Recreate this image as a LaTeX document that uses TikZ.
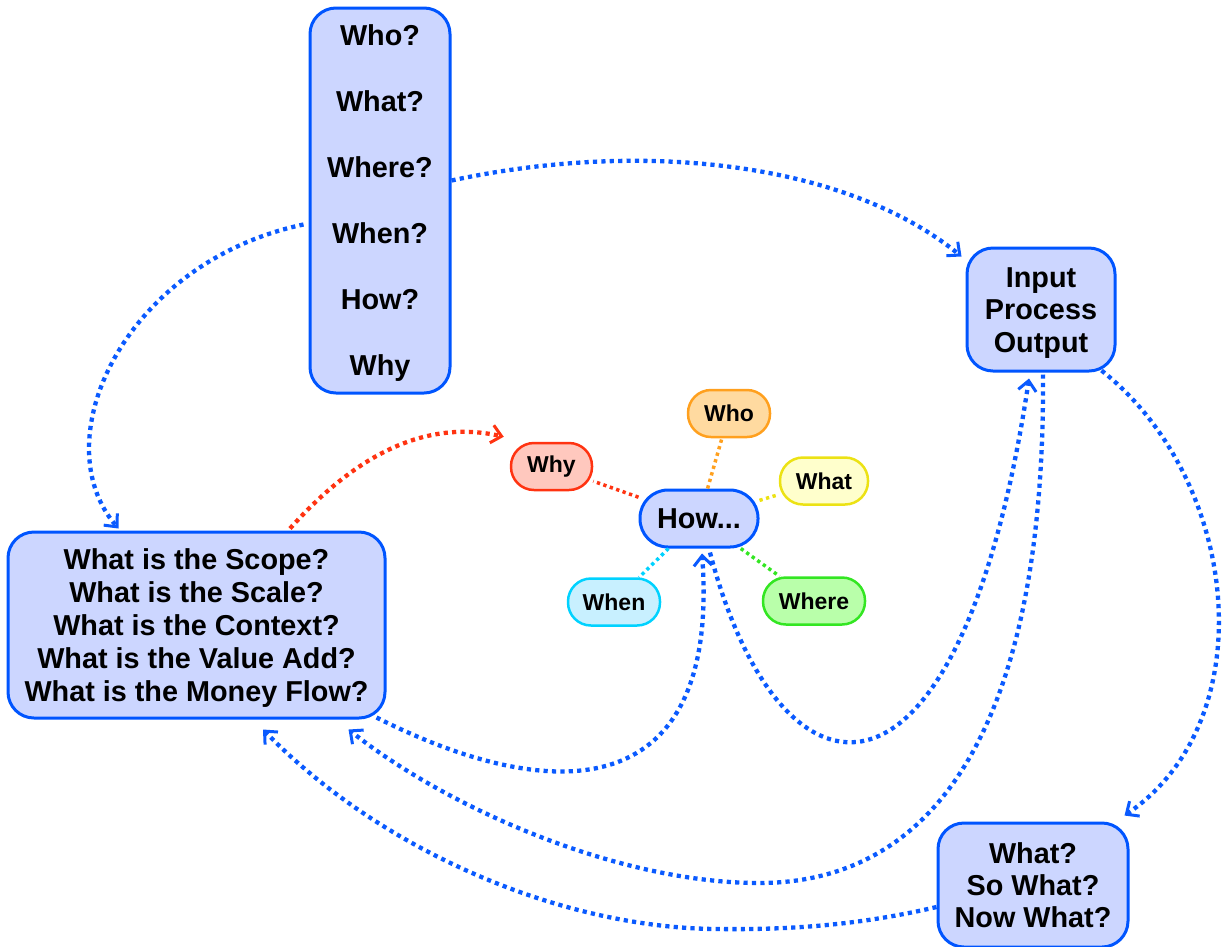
\documentclass[tikz,border=0pt]{standalone}
\usepackage{fontspec}
\setmainfont{Liberation Sans}
\usetikzlibrary{arrows.meta,calc}
\definecolor{bfill}{RGB}{204,214,255}
\definecolor{bline}{RGB}{0,85,255}
\definecolor{dotblue}{RGB}{10,90,255}
\definecolor{whyfill}{RGB}{255,200,190}
\definecolor{whyline}{RGB}{255,51,17}
\definecolor{whofill}{RGB}{255,218,160}
\definecolor{wholine}{RGB}{255,160,30}
\definecolor{whatfill}{RGB}{255,255,204}
\definecolor{whatline}{RGB}{236,226,20}
\definecolor{whenfill}{RGB}{200,240,255}
\definecolor{whenline}{RGB}{0,210,255}
\definecolor{wherefill}{RGB}{185,255,170}
\definecolor{whereline}{RGB}{51,230,34}
\newcommand{\topstrut}{\rule{0pt}{26pt}}
\begin{document}
\begin{tikzpicture}[x=1pt,y=-1pt,
  box/.style={draw=bline, fill=bfill, line width=3pt, rounded corners=26pt, align=center, inner sep=0pt,
    font=\fontsize{28.8}{33}\selectfont\bfseries},
  sat/.style n args={2}{draw=#1, fill=#2, line width=2.5pt, rounded corners=23pt, inner sep=0pt,
    minimum height=47pt, font=\fontsize{23}{26}\selectfont\bfseries},
  link/.style={draw=dotblue, line width=4.3pt, dash pattern=on 4.2pt off 4.2pt,
    -{Straight Barb[length=10pt,width=18pt,line width=3pt]}},
  spoke/.style={draw=#1, line width=3.5pt, dash pattern=on 3.3pt off 3.5pt}
]
\useasboundingbox (0,0) rectangle (1225,946);

% main boxes
\node[box, minimum width=140pt, minimum height=385pt, font=\fontsize{28.8}{66}\selectfont\bfseries] (big) at (380,200.5)
  {\topstrut Who?\\What?\\Where?\\When?\\How?\\Why};
\node[box, minimum width=148pt, minimum height=123pt, font=\fontsize{28.8}{32.5}\selectfont\bfseries] (ipo) at (1041,309.5)
  {\topstrut Input\\Process\\Output};
\node[box, minimum width=377pt, minimum height=186pt] (left) at (196.5,625)
  {\topstrut What is the Scope?\\What is the Scale?\\What is the Context?\\What is the Value Add?\\What is the Money Flow?};
\node[box, minimum width=190pt, minimum height=124pt, font=\fontsize{28.8}{32}\selectfont\bfseries] (bot) at (1033,885)
  {What?\\So What?\\Now What?};

% centre and satellites
\node[box, minimum width=118pt, minimum height=57pt, rounded corners=28pt] (how) at (699,518.5) {How...};
\node[sat={wholine}{whofill}, minimum width=82pt] (who) at (729,413.5) {Who};
\node[sat={whatline}{whatfill}, minimum width=88pt] (what) at (824,481) {What};
\node[sat={whyline}{whyfill}, minimum width=81pt] (why) at (551.5,466.5) {Why};
\node[sat={whenline}{whenfill}, minimum width=92pt] (when) at (614,602) {When};
\node[sat={whereline}{wherefill}, minimum width=102pt] (where) at (814,601) {Where};

% spokes
\draw[spoke=whyline] (how) -- (why);
\draw[spoke=wholine] (how) -- (who);
\draw[spoke=whatline] (how) -- (what);
\draw[spoke=whenline] (how) -- (when);
\draw[spoke=whereline] (how) -- (where);

% connectors
\draw[link] ([shift={(0,-20)}]big.east) .. controls (650,138) and (850,165) .. ([shift={(-4,10)}]ipo.north west);
\draw[link] ([shift={(-5,24)}]big.west) .. controls (125,262) and (42,440) .. ([shift={(-78,-2)}]left.north);
\draw[link, draw=whyline] ([shift={(93.5,-2)}]left.north) .. controls (360,450) and (430,420) .. ([shift={(-6,-5)}]why.north west);
\draw[link] ([shift={(-10,-2)}]left.south east) .. controls (560,810) and (720,800) .. ([shift={(3,5)}]how.south);
\draw[link] ([shift={(11,4)}]how.south) .. controls (780,820) and (960,840) .. ([shift={(-12,6)}]ipo.south);
\draw[link] ([shift={(2,2)}]ipo.south) .. controls (1045,700) and (950,883) .. (759,883) .. controls (620,883) and (450,810) .. ([shift={(-38,10)}]left.south east);
\draw[link] ([shift={(-15,-2)}]ipo.south east) .. controls (1240,480) and (1265,720) .. ([shift={(-5,-6)}]bot.north east);
\draw[link] ([shift={(0,22)}]bot.west) .. controls (860,925) and (790,930) .. (717,929) .. controls (560,928) and (380,850) .. ([shift={(66.5,10)}]left.south);
\end{tikzpicture}
\end{document}
